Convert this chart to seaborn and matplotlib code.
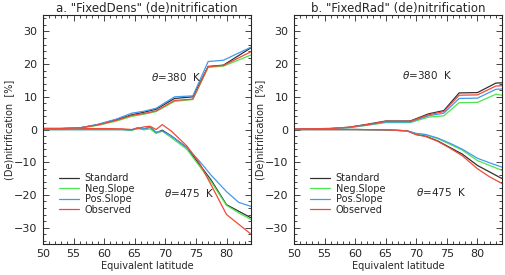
import pandas as pd
import seaborn as sns
import matplotlib.pyplot as plt
from matplotlib.ticker import MultipleLocator

# panel a, 380 K
lat_a380 = [50, 53, 56, 59, 62, 64.5, 66.5, 68.5, 71.5, 74.5, 77, 79.5, 84]
std_a380 = [0.3, 0.3, 0.5, 1.5, 3.0, 4.5, 5.3, 6.2, 9.5, 10.0, 19.3, 19.7, 25.0]
neg_a380 = [0.3, 0.3, 0.5, 1.3, 2.6, 4.0, 4.7, 5.5, 8.6, 9.2, 19.0, 19.4, 22.8]
pos_a380 = [0.3, 0.3, 0.5, 1.6, 3.2, 5.0, 5.6, 6.5, 10.0, 10.3, 20.8, 21.2, 25.2]
obs_a380 = [0.3, 0.3, 0.5, 1.4, 2.8, 4.3, 4.9, 5.7, 8.9, 9.3, 19.2, 19.6, 23.8]

# panel a, 475 K
lat_a475 = [50, 55, 60, 63, 64.5, 65.5, 66.5, 67.5, 68.5, 69.5, 71, 73.5, 75.5, 77.5, 80, 82, 84]
std_a475 = [0, 0, 0, 0, -0.2, 0.5, 0.1, 0.7, -1.0, -0.2, -2.0, -5.5, -10.5, -15.5, -23.0, -25.0, -27.0]
neg_a475 = [0, 0, 0, 0, -0.2, 0.3, -0.1, 0.2, -1.2, -0.5, -2.5, -6.0, -11.0, -16.0, -23.2, -25.5, -27.5]
pos_a475 = [0, 0, 0, 0, -0.1, 0.6, 0.2, 0.8, -0.8, -0.5, -2.0, -5.5, -9.5, -14.0, -19.0, -22.3, -23.5]
obs_a475 = [0.3, 0.3, 0.3, 0.2, 0, 0.3, 0.8, 1.0, 0, 1.5, -0.5, -5.0, -10.0, -17.0, -26.0, -29.0, -32.0]

# panel b, 380 K
lat_b380 = [50, 56, 59, 62, 65, 69, 72, 74.5, 77, 80, 83, 84]
std_b380 = [0.2, 0.3, 0.7, 1.6, 2.6, 2.6, 4.8, 5.8, 11.2, 11.3, 14.2, 14.3]
neg_b380 = [0.2, 0.3, 0.6, 1.3, 2.1, 2.1, 3.8, 4.2, 8.2, 8.3, 10.8, 10.5]
pos_b380 = [0.2, 0.3, 0.6, 1.4, 2.3, 2.3, 4.2, 5.0, 9.5, 9.6, 12.3, 12.4]
obs_b380 = [0.2, 0.3, 0.7, 1.5, 2.5, 2.5, 4.5, 5.5, 10.5, 10.6, 13.3, 13.4]

# panel b, 475 K
lat_b475 = [50, 60, 65, 68.5, 70, 71.5, 73.5, 75.5, 77.5, 80, 82, 84]
std_b475 = [0, 0, -0.1, -0.4, -1.5, -2.0, -3.5, -5.5, -7.5, -11.0, -13.0, -15.0]
neg_b475 = [0, 0, -0.1, -0.4, -1.3, -1.6, -2.8, -4.5, -6.3, -9.5, -11.0, -12.5]
pos_b475 = [0, 0, -0.1, -0.4, -1.2, -1.5, -2.6, -4.2, -6.0, -8.8, -10.2, -11.5]
obs_b475 = [0, 0, -0.1, -0.4, -1.6, -2.1, -3.6, -5.7, -8.0, -12.0, -14.5, -16.5]

runs = ["Standard", "Neg.Slope", "Pos.Slope", "Observed"]
colors = {"Standard": "#303030", "Neg.Slope": "#4ee44e", "Pos.Slope": "#4499ee", "Observed": "#ee4a3a"}


def make_df(lat, series, level):
    rows = []
    for run, vals in zip(runs, series):
        for x, y in zip(lat, vals):
            rows.append({"lat": x, "val": y, "run": run, "level": level})
    return rows


df_a = pd.DataFrame(make_df(lat_a380, [std_a380, neg_a380, pos_a380, obs_a380], "380")
                    + make_df(lat_a475, [std_a475, neg_a475, pos_a475, obs_a475], "475"))
df_b = pd.DataFrame(make_df(lat_b380, [std_b380, neg_b380, pos_b380, obs_b380], "380")
                    + make_df(lat_b475, [std_b475, neg_b475, pos_b475, obs_b475], "475"))

sns.set_style("ticks")
plt.rcParams["font.family"] = ["DejaVu Sans"]

fig = plt.figure(figsize=(5.05, 2.75), dpi=100)
ax_a = fig.add_axes([0.085, 0.113, 0.412, 0.832])
ax_b = fig.add_axes([0.582, 0.113, 0.412, 0.832])

panels = [
    (ax_a, df_a, 'a. "FixedDens" (de)nitrification', (67.7, 16.0), (69.8, -19.3)),
    (ax_b, df_b, 'b. "FixedRad" (de)nitrification', (67.6, 16.6), (70.0, -19.0)),
]

for ax, df, title, p380, p475 in panels:
    # 475 K first, then 380 K; legend only once
    for level in ["475", "380"]:
        sub = df[df["level"] == level]
        sns.lineplot(data=sub, x="lat", y="val", hue="run", hue_order=runs,
                     palette=colors, linewidth=0.9, ax=ax, sort=False,
                     estimator=None, legend=(level == "380"))
    ax.set_xlim(50, 84)
    ax.set_ylim(-35, 35)
    ax.xaxis.set_major_locator(MultipleLocator(5))
    ax.xaxis.set_minor_locator(MultipleLocator(1))
    ax.yaxis.set_major_locator(MultipleLocator(10))
    ax.yaxis.set_minor_locator(MultipleLocator(2))
    ax.tick_params(which="both", direction="in", top=True, right=True, width=0.6)
    ax.tick_params(which="major", length=4, labelsize=8, pad=4)
    ax.tick_params(which="minor", length=2)
    for s in ax.spines.values():
        s.set_linewidth(0.8)
    ax.set_title(title, fontsize=8.5, pad=2)
    ax.set_xlabel("Equivalent latitude", fontsize=7, labelpad=1)
    ax.set_ylabel("(De)nitrification  [%]", fontsize=7, labelpad=0)
    ax.text(p380[0], p380[1], r"$\theta$=380  K", fontsize=7.5, va="center")
    ax.text(p475[0], p475[1], r"$\theta$=475  K", fontsize=7.5, va="center")
    ax.legend(loc="lower left", bbox_to_anchor=(0.06, 0.11), frameon=False,
              fontsize=7, handlelength=2.0, handletextpad=0.6,
              labelspacing=0.05, borderaxespad=0)

fig.savefig("out.png", dpi=100)
